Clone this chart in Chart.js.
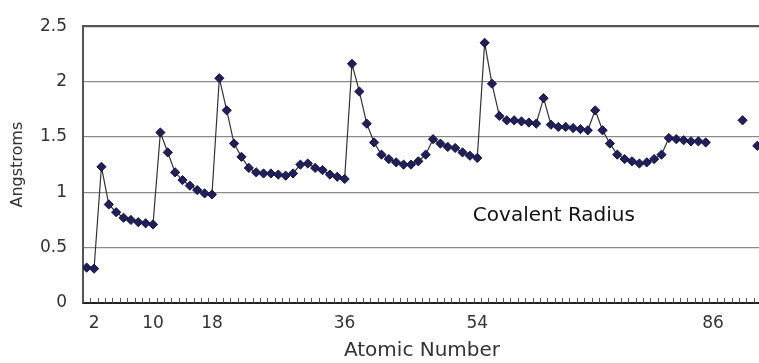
<!DOCTYPE html>
<html lang="en">
<head>
    <meta charset="UTF-8">
    <title>Covalent Radius</title>
    <script src="https://cdn.jsdelivr.net/npm/chart.js"></script>
    <style>
        body { margin: 0; overflow: hidden; background: #fff; }
        #wrap { width: 770px; height: 363px; position: relative; }
    </style>
</head>
<body>

    <div id="wrap"><canvas id="radiusChart"></canvas></div>

    <script>
        // covalent radius (angstroms) for Z = 1..92, null where there is no value
        const radius = [
            0.32, 0.31, 1.23, 0.89, 0.82, 0.77, 0.75, 0.73, 0.72, 0.71,
            1.54, 1.36, 1.18, 1.11, 1.06, 1.02, 0.99, 0.98, 2.03, 1.74,
            1.44, 1.32, 1.22, 1.18, 1.17, 1.17, 1.16, 1.15, 1.17, 1.25,
            1.26, 1.22, 1.20, 1.16, 1.14, 1.12, 2.16, 1.91, 1.62, 1.45,
            1.34, 1.30, 1.27, 1.25, 1.25, 1.28, 1.34, 1.48, 1.44, 1.41,
            1.40, 1.36, 1.33, 1.31, 2.35, 1.98, 1.69, 1.65, 1.65, 1.64,
            1.63, 1.62, 1.85, 1.61, 1.59, 1.59, 1.58, 1.57, 1.56, 1.74,
            1.56, 1.44, 1.34, 1.30, 1.28, 1.26, 1.27, 1.30, 1.34, 1.49,
            1.48, 1.47, 1.46, 1.46, 1.45, null, null, null, null, 1.65,
            null, 1.42
        ];
        const xTicks = [2, 10, 18, 36, 54, 86];
        const yTicks = [0, 0.5, 1, 1.5, 2, 2.5];

        const points = radius.map((r, i) => ({ x: i + 1, y: r }));

        // small inward tick marks between categories + the in-plot label
        const extras = {
            id: "extras",
            afterDraw(chart) {
                const ctx = chart.ctx;
                const xs = chart.scales.x, ys = chart.scales.y;
                const bottom = chart.chartArea.bottom;
                ctx.save();
                ctx.strokeStyle = "#555";
                ctx.lineWidth = 1;
                for (let v = 1.5; v < 92.5; v += 1) {
                    const px = Math.round(xs.getPixelForValue(v)) + 0.5;
                    ctx.beginPath();
                    ctx.moveTo(px, bottom);
                    ctx.lineTo(px, bottom - 5);
                    ctx.stroke();
                }
                ctx.fillStyle = "#111";
                ctx.font = "20px 'DejaVu Sans'";
                ctx.textBaseline = "alphabetic";
                ctx.fillText("Covalent Radius", xs.getPixelForValue(53.4), ys.getPixelForValue(0.74));
                ctx.restore();
            }
        };

        new Chart(document.getElementById("radiusChart"), {
            type: "line",
            data: {
                datasets: [{
                    label: "Covalent Radius",
                    data: points,
                    borderColor: "#333",
                    borderWidth: 1.2,
                    backgroundColor: "#1f1f5e",
                    pointStyle: "rectRot",
                    pointRadius: 4.6,
                    pointBorderColor: "#14143c",
                    pointBorderWidth: 1,
                    spanGaps: false,
                    tension: 0
                }]
            },
            options: {
                responsive: true,
                maintainAspectRatio: false,
                animation: false,
                layout: { padding: { left: 0, right: 9, top: 19, bottom: 0 } },
                plugins: {
                    legend: { display: false },
                    tooltip: { enabled: false }
                },
                scales: {
                    x: {
                        type: "linear",
                        min: 0.5,
                        max: 92.5,
                        afterFit: s => { s.height = 60; },
                        afterBuildTicks: s => { s.ticks = xTicks.map(v => ({ value: v })); },
                        ticks: {
                            autoSkip: false,
                            maxRotation: 0,
                            padding: 10,
                            color: "#333",
                            font: { family: "DejaVu Sans", size: 17 },
                            callback: v => String(v)
                        },
                        grid: { display: false, drawTicks: false },
                        border: { display: true, color: "#222", width: 2 },
                        title: {
                            display: true,
                            text: "Atomic Number",
                            color: "#333",
                            font: { family: "DejaVu Sans", size: 20 },
                            padding: { top: 0, bottom: 0 }
                        }
                    },
                    y: {
                        min: 0,
                        max: 2.5,
                        afterFit: s => { s.width = 83; },
                        afterBuildTicks: s => { s.ticks = yTicks.map(v => ({ value: v })); },
                        ticks: {
                            padding: 16,
                            color: "#333",
                            font: { family: "DejaVu Sans", size: 17 },
                            callback: v => String(v)
                        },
                        grid: {
                            drawTicks: false,
                            color: ctx => ctx.tick && ctx.tick.value === 2.5 ? "#555" : "#8a8a8a",
                            lineWidth: ctx => ctx.tick && ctx.tick.value === 2.5 ? 2.2 : 1.2
                        },
                        border: { display: true, color: "#555", width: 2 },
                        title: {
                            display: true,
                            text: "Angstroms",
                            color: "#333",
                            font: { family: "DejaVu Sans", size: 16 },
                            padding: { top: 8, bottom: 0 }
                        }
                    }
                }
            },
            plugins: [extras]
        });
    </script>

</body>
</html>
